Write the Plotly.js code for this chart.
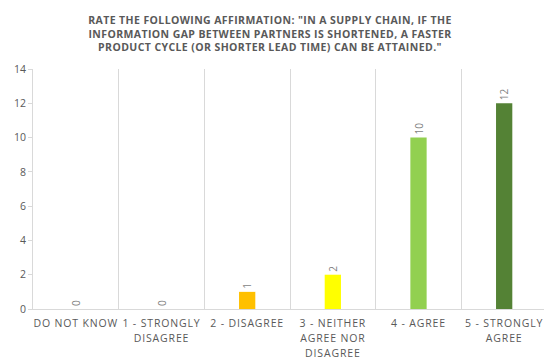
<!DOCTYPE html>
<html>
<head>
<meta charset="utf-8">
<script src="https://cdn.plot.ly/plotly-3.0.1.min.js"></script>
<style>
  html, body { margin: 0; padding: 0; overflow: hidden; background: #fff; }
  #chart { width: 560px; height: 360px; }
  .xtick text { letter-spacing: 0.85px; }
  .gtitle { letter-spacing: 0.4px; }
</style>
</head>
<body>
<div id="chart"></div>
<script>
// Survey answers and counts
const categories = [
  "DO NOT KNOW",
  "1 - STRONGLY<br>DISAGREE",
  "2 - DISAGREE",
  "3 - NEITHER<br>AGREE NOR<br>DISAGREE",
  "4 - AGREE",
  "5 - STRONGLY<br>AGREE"
];
const counts = [0, 0, 1, 2, 10, 12];
const barColors = ["#A5A5A5", "#A5A5A5", "#FFC000", "#FFFF00", "#92D050", "#548235"];
const yTicks = [0, 2, 4, 6, 8, 10, 12, 14];
const chartTitle = 'RATE THE FOLLOWING AFFIRMATION: "IN A SUPPLY CHAIN, IF THE<br>' +
  'INFORMATION GAP BETWEEN PARTNERS IS SHORTENED, A FASTER<br>' +
  'PRODUCT CYCLE (OR SHORTER LEAD TIME) CAN BE ATTAINED."';

const font = "Open Sans, Liberation Sans, sans-serif";

const trace = {
  type: "bar",
  x: categories,
  y: counts,
  width: 0.19,
  marker: { color: barColors },
  text: counts.map(String),
  textposition: "outside",
  textangle: -90,
  cliponaxis: false,
  textfont: { family: font, size: 10, color: "#7F7F7F" },
  hoverinfo: "none"
};

const layout = {
  width: 560,
  height: 360,
  margin: { l: 33, r: 13, t: 69, b: 51 },
  paper_bgcolor: "#ffffff",
  plot_bgcolor: "#ffffff",
  showlegend: false,
  title: {
    text: chartTitle,
    font: { family: font, size: 10.5, color: "#595959", weight: "bold" },
    xref: "container",
    x: 270 / 560,
    xanchor: "center",
    yref: "container",
    y: 1 - 24 / 360,
    yanchor: "top"
  },
  xaxis: {
    type: "category",
    tickson: "boundaries",
    showgrid: true,
    gridcolor: "#D9D9D9",
    gridwidth: 1,
    showline: true,
    linecolor: "#D9D9D9",
    linewidth: 1,
    ticks: "",
    ticklabelstandoff: 4,
    tickfont: { family: font, size: 10.5, color: "#595959" },
    fixedrange: true
  },
  yaxis: {
    range: [0, 14],
    tickvals: yTicks,
    ticktext: yTicks.map(String),
    showgrid: false,
    zeroline: false,
    showline: true,
    linecolor: "#D9D9D9",
    linewidth: 1,
    ticks: "outside",
    ticklen: 4,
    tickcolor: "#D9D9D9",
    tickfont: { family: font, size: 10.5, color: "#595959" },
    fixedrange: true
  }
};

Plotly.newPlot("chart", [trace], layout, { displayModeBar: false, staticPlot: true })
  .then(function (gd) {
    // Open up the line spacing of the wrapped category labels a little
    gd.querySelectorAll(".xtick text tspan.line").forEach(function (t) {
      const dy = parseFloat(t.getAttribute("dy"));
      if (dy) t.setAttribute("dy", (dy * 1.1) + "em");
    });
  });
</script>
</body>
</html>
